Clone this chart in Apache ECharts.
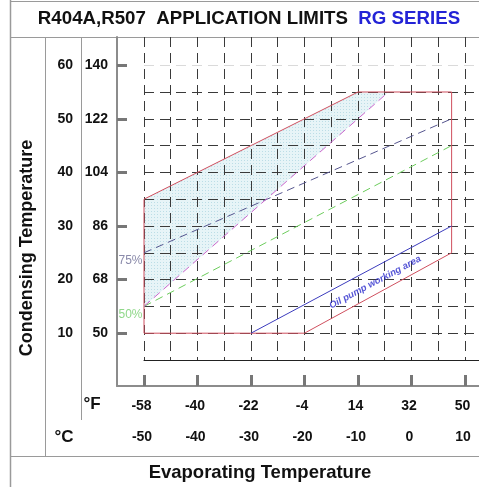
<!DOCTYPE html>
<html><head><meta charset="utf-8">
<script src="https://cdn.jsdelivr.net/npm/echarts@6/dist/echarts.min.js"></script>
<style>html,body{margin:0;padding:0;background:#fff}#c{width:479px;height:487px}</style>
</head><body><div id="c"></div>
<script>
// ---- tick labels ----
const xTicksC = [-50, -40, -30, -20, -10, 0, 10];
const xLabelsF = ['-58', '-40', '-22', '-4', '14', '32', '50'];
const yTicksC = [10, 20, 30, 40, 50, 60];
const yLabelsF = ['50', '68', '86', '104', '122', '140'];

// ---- data (evaporating °C, condensing °C) ----
const envelope = [[-50, 10], [-20, 10], [7.5, 25], [7.5, 55], [-10, 55], [-50, 35], [-50, 10]];
const oilPump = [[-30, 10], [7.5, 30]];
const line75 = [[-50, 25], [7.5, 50]];
const line50 = [[-50, 15], [7.5, 45]];
const lineLimit = [[-50, 15], [-4.3, 55]];
const shaded = [[-50, 15], [-50, 35], [-10, 55], [-4.3, 55]];
const oilLabelAt = [-6.8, 19.5];

const FONT = '"Liberation Sans", Arial, sans-serif';
const chart = echarts.init(document.getElementById('c'), null, { renderer: 'canvas' });

const pc = document.createElement('canvas'); pc.width = 3; pc.height = 3;
const g = pc.getContext('2d');
g.fillStyle = '#e7f4f7'; g.fillRect(0, 0, 3, 3);
g.fillStyle = '#bcdde6'; g.fillRect(1, 1, 1, 1);

const gridColor = '#3a3a3a';
const T = 'rgba(0,0,0,0)';
const ySplitColors = [T, gridColor, gridColor, gridColor, gridColor, gridColor, gridColor, gridColor, gridColor, gridColor, gridColor, '#dadada', T];
const tableColor = '#9a9a9a';

const dashStyle = { type: [10, 6], width: 1 };

chart.setOption({
  animation: false,
  textStyle: { fontFamily: FONT },
  grid: [
    { left: 144, top: 37, width: 335, height: 323 },
    { left: 117, top: 37, width: 362, height: 349 }
  ],
  xAxis: [
    { type: 'value', gridIndex: 0, min: -50, max: 12.62, interval: 5, z: 3,
      axisLine: { show: true, onZero: false, lineStyle: { color: '#222', width: 1 } },
      axisTick: { show: false }, axisLabel: { show: false },
      splitLine: { show: true, lineStyle: Object.assign({ color: gridColor }, dashStyle) } },
    { type: 'value', gridIndex: 1, min: -55.05, max: 12.62, position: 'bottom',
      axisLine: { show: true, onZero: false, lineStyle: { color: '#8c8c8c', width: 2 } },
      axisTick: { show: true, inside: true, length: 11, customValues: xTicksC, lineStyle: { color: '#777', width: 3 } },
      axisLabel: { show: true, customValues: xTicksC, margin: 13, padding: [0, 5, 0, 0],
        formatter: v => xLabelsF[xTicksC.indexOf(v)], fontSize: 14, fontWeight: 'bold', color: '#111', fontFamily: FONT },
      splitLine: { show: false } },
    { type: 'value', gridIndex: 1, min: -55.05, max: 12.62, position: 'bottom',
      axisLine: { show: false }, axisTick: { show: false },
      axisLabel: { show: true, customValues: xTicksC, margin: 44, padding: [0, 4, 0, 0],
        formatter: v => String(v), fontSize: 14, fontWeight: 'bold', color: '#111', fontFamily: FONT },
      splitLine: { show: false } }
  ],
  yAxis: [
    { type: 'value', gridIndex: 0, min: 5, max: 65.26, interval: 5, z: 3,
      axisLine: { show: false }, axisTick: { show: false }, axisLabel: { show: false },
      splitLine: { show: true, lineStyle: Object.assign({ color: ySplitColors }, dashStyle) } },
    { type: 'value', gridIndex: 1, min: 0.15, max: 65.26, position: 'left',
      axisLine: { show: true, onZero: false, lineStyle: { color: '#8c8c8c', width: 2 } },
      axisTick: { show: true, inside: true, length: 10, customValues: yTicksC, lineStyle: { color: '#777', width: 3 } },
      axisLabel: { show: true, customValues: yTicksC, margin: 9,
        formatter: v => yLabelsF[yTicksC.indexOf(v)], fontSize: 14, fontWeight: 'bold', color: '#111', fontFamily: FONT },
      splitLine: { show: false } },
    { type: 'value', gridIndex: 1, min: 0.15, max: 65.26, position: 'left',
      axisLine: { show: false }, axisTick: { show: false },
      axisLabel: { show: true, customValues: yTicksC, margin: 44,
        formatter: v => String(v), fontSize: 14, fontWeight: 'bold', color: '#111', fontFamily: FONT },
      splitLine: { show: false } }
  ],
  series: [
    { type: 'custom', xAxisIndex: 0, yAxisIndex: 0, data: [0], silent: true, z: 1,
      renderItem: (p, api) => ({ type: 'polygon', shape: { points: shaded.map(pt => api.coord(pt)) },
        style: { fill: { image: pc, repeat: 'repeat' }, stroke: null } }) },
    { type: 'line', xAxisIndex: 0, yAxisIndex: 0, data: envelope, symbol: 'none', silent: true, z: 5,
      lineStyle: { color: '#cf4f5e', width: 1 } },
    { type: 'line', xAxisIndex: 0, yAxisIndex: 0, data: oilPump, symbol: 'none', silent: true, z: 5,
      lineStyle: { color: '#3b3bbd', width: 1 } },
    { type: 'line', xAxisIndex: 0, yAxisIndex: 0, symbol: 'circle', symbolSize: 1, showSymbol: true, silent: true, z: 5,
      data: [{ value: line75[0], label: { show: true, formatter: '75%', position: 'left', distance: 1, offset: [0, 8],
        color: '#8a8aaa', fontSize: 12, fontFamily: FONT } }, line75[1]],
      lineStyle: { color: '#55558e', width: 1, type: [8, 5] }, itemStyle: { color: T, borderWidth: 0 } },
    { type: 'line', xAxisIndex: 0, yAxisIndex: 0, symbol: 'circle', symbolSize: 1, showSymbol: true, silent: true, z: 5,
      data: [{ value: line50[0], label: { show: true, formatter: '50%', position: 'left', distance: 1, offset: [0, 8],
        color: '#90d88a', fontSize: 12, fontFamily: FONT } }, line50[1]],
      lineStyle: { color: '#6ccc5c', width: 1, type: [8, 5] }, itemStyle: { color: T, borderWidth: 0 } },
    { type: 'line', xAxisIndex: 0, yAxisIndex: 0, data: lineLimit, symbol: 'none', silent: true, z: 5,
      lineStyle: { color: '#cc66cc', width: 1, type: [8, 5] } },
    { type: 'scatter', xAxisIndex: 0, yAxisIndex: 0, data: [oilLabelAt], symbolSize: 1, silent: true, z: 6,
      itemStyle: { color: T },
      label: { show: true, position: 'inside', rotate: 28, formatter: 'Oil pump working area',
        color: '#2b2bcc', fontSize: 9.5, fontWeight: 'bold', fontStyle: 'italic', fontFamily: FONT } }
  ],
  graphic: [
    { type: 'line', shape: { x1: 10.5, y1: 0, x2: 10.5, y2: 487 }, style: { stroke: tableColor, lineWidth: 1.5 }, silent: true },
    { type: 'line', shape: { x1: 10, y1: 1.5, x2: 479, y2: 1.5 }, style: { stroke: tableColor, lineWidth: 1 }, silent: true },
    { type: 'line', shape: { x1: 10, y1: 37.5, x2: 479, y2: 37.5 }, style: { stroke: tableColor, lineWidth: 1 }, silent: true },
    { type: 'line', shape: { x1: 45.5, y1: 37, x2: 45.5, y2: 456 }, style: { stroke: tableColor, lineWidth: 1 }, silent: true },
    { type: 'line', shape: { x1: 81.5, y1: 37, x2: 81.5, y2: 420 }, style: { stroke: tableColor, lineWidth: 1 }, silent: true },
    { type: 'line', shape: { x1: 10, y1: 456.5, x2: 479, y2: 456.5 }, style: { stroke: tableColor, lineWidth: 1 }, silent: true },
    { type: 'text', x: 249, y: 19, silent: true,
      style: { text: '{a|R404A,R507  APPLICATION LIMITS  }{b|RG SERIES}', align: 'center', verticalAlign: 'middle',
        rich: { a: { fontSize: 18.7, fontWeight: 'bold', fill: '#111', fontFamily: FONT },
                b: { fontSize: 18.7, fontWeight: 'bold', fill: '#2323d6', fontFamily: FONT } } } },
    { type: 'text', x: 92, y: 404, silent: true,
      style: { text: '°F', align: 'center', verticalAlign: 'middle', fontSize: 17, fontWeight: 'bold', fill: '#111', fontFamily: FONT } },
    { type: 'text', x: 64, y: 437, silent: true,
      style: { text: '°C', align: 'center', verticalAlign: 'middle', fontSize: 17, fontWeight: 'bold', fill: '#111', fontFamily: FONT } },
    { type: 'text', x: 27, y: 248, rotation: Math.PI / 2, silent: true,
      style: { text: 'Condensing Temperature', align: 'center', verticalAlign: 'middle', fontSize: 18, fontWeight: 'bold', fill: '#111', fontFamily: FONT } },
    { type: 'text', x: 260, y: 473, silent: true,
      style: { text: 'Evaporating Temperature', align: 'center', verticalAlign: 'middle', fontSize: 18.5, fontWeight: 'bold', fill: '#111', fontFamily: FONT } }
  ]
});
</script></body></html>
